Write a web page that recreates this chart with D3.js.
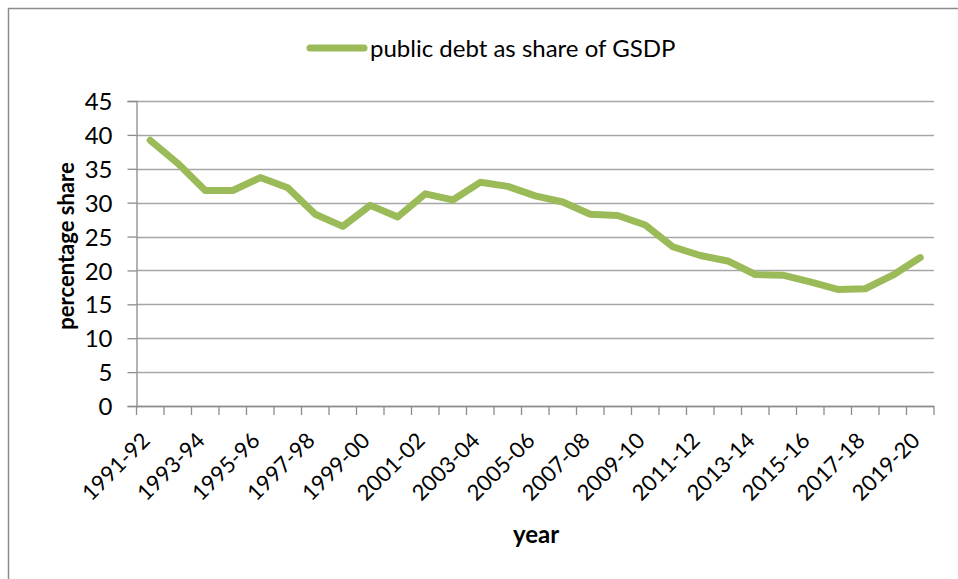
<!DOCTYPE html>
<html lang="en">
  <head>
    <meta charset='utf-8'>
    <script src='https://d3js.org/d3.v7.min.js'></script>
    <title>Public debt as share of GSDP</title>
    <style>
      body {
        margin: 0px;
        background: #fff;
      }
      text {
        font-family: Lato, 'Open Sans', sans-serif;
        fill: #000;
      }
      .axis-label {
        font-weight: bold;
      }
    </style>
  </head>
  <body>
    <div id="viz"></div>
    <script>

      // data
      const years = ['1991-92','1992-93','1993-94','1994-95','1995-96','1996-97','1997-98',
        '1998-99','1999-00','2000-01','2001-02','2002-03','2003-04','2004-05','2005-06',
        '2006-07','2007-08','2008-09','2009-10','2010-11','2011-12','2012-13','2013-14',
        '2014-15','2015-16','2016-17','2017-18','2018-19','2019-20'];
      const debtShare = [39.2, 35.8, 31.8, 31.8, 33.7, 32.2, 28.3, 26.5, 29.6, 27.9, 31.3, 30.4,
        33.0, 32.4, 31.0, 30.1, 28.3, 28.1, 26.7, 23.5, 22.2, 21.4, 19.4, 19.3, 18.3, 17.2,
        17.3, 19.3, 21.9];
      const yTicks = [0, 5, 10, 15, 20, 25, 30, 35, 40, 45];
      const seriesName = 'public debt as share of GSDP';
      const lineColor = '#9bbb59';
      const axisColor = '#8c8c8c';

      const width = 958, height = 579;
      const margin = { left: 136.5, right: 24, top: 101, bottom: 173 };
      const innerWidth = width - margin.left - margin.right;
      const innerHeight = height - margin.top - margin.bottom;

      const data = years.map((y, i) => ({ year: y, value: debtShare[i] }));

      const svg = d3.select('#viz').append('svg')
        .attr('width', width)
        .attr('height', height);

      // outer chart frame (cropped on right and bottom)
      svg.append('path')
        .attr('d', `M8.5,${height} V8.5 H${width}`)
        .attr('fill', 'none')
        .attr('stroke', axisColor)
        .attr('stroke-width', 1.5);

      const g = svg.append('g')
        .attr('transform', `translate(${margin.left},${margin.top})`);

      const xScale = d3.scaleBand()
        .domain(years)
        .range([0, innerWidth]);

      const yScale = d3.scaleLinear()
        .domain([0, 45])
        .range([innerHeight, 0]);

      // gridlines
      g.append('g')
        .selectAll('line')
        .data(yTicks)
        .join('line')
        .attr('x1', 0).attr('x2', innerWidth)
        .attr('y1', d => Math.round(yScale(d)) + 0.5)
        .attr('y2', d => Math.round(yScale(d)) + 0.5)
        .attr('stroke', '#a6a6a6')
        .attr('stroke-width', 1.3);

      // y axis
      const yAxisG = g.append('g')
        .call(d3.axisLeft(yScale).tickValues(yTicks).tickSize(9).tickPadding(15));
      yAxisG.attr('font-family', null).attr('font-size', null);
      yAxisG.select('.domain').attr('stroke', axisColor).attr('stroke-width', 1.3);
      yAxisG.selectAll('.tick line').attr('stroke', axisColor).attr('stroke-width', 1.3);
      yAxisG.selectAll('.tick text')
        .attr('fill', '#000')
        .attr('dy', '0.36em')
        .style('font-size', '24px');

      // x axis: tick marks at category boundaries
      const xAxisG = g.append('g')
        .attr('transform', `translate(0,${innerHeight})`);
      xAxisG.append('line')
        .attr('x1', 0).attr('x2', innerWidth)
        .attr('y1', 0.5).attr('y2', 0.5)
        .attr('stroke', axisColor).attr('stroke-width', 1.3);
      xAxisG.selectAll('.bound')
        .data(years.concat(['end']))
        .join('line')
        .attr('class', 'bound')
        .attr('x1', (d, i) => i < years.length ? xScale(d) : innerWidth)
        .attr('x2', (d, i) => i < years.length ? xScale(d) : innerWidth)
        .attr('y1', 0).attr('y2', 9)
        .attr('stroke', axisColor).attr('stroke-width', 1.3);
      xAxisG.selectAll('.xlab')
        .data(years.filter((d, i) => i % 2 === 0))
        .join('text')
        .attr('class', 'xlab')
        .attr('text-anchor', 'end')
        .style('font-size', '22px')
        .attr('transform', d => `translate(${xScale(d) + xScale.bandwidth() / 2 + 1},${36}) rotate(-45)`)
        .text(d => d);

      // line
      const line = d3.line()
        .x(d => xScale(d.year) + xScale.bandwidth() / 2)
        .y(d => yScale(d.value));

      g.append('path')
        .datum(data)
        .attr('fill', 'none')
        .attr('stroke', lineColor)
        .attr('stroke-width', 7)
        .attr('stroke-linejoin', 'round')
        .attr('stroke-linecap', 'round')
        .attr('d', line);

      // axis labels
      svg.append('text')
        .attr('class', 'axis-label')
        .attr('text-anchor', 'middle')
        .style('font-size', '22px')
        .attr('transform', `translate(74,246) rotate(-90)`)
        .text('percentage share');

      svg.append('text')
        .attr('class', 'axis-label')
        .attr('text-anchor', 'middle')
        .style('font-size', '24px')
        .attr('x', 536)
        .attr('y', 543)
        .text('year');

      // legend
      const legend = svg.append('g').attr('transform', 'translate(310,48)');
      legend.append('line')
        .attr('x1', 0).attr('x2', 54)
        .attr('y1', 0).attr('y2', 0)
        .attr('stroke', lineColor)
        .attr('stroke-width', 7)
        .attr('stroke-linecap', 'round');
      legend.append('text')
        .attr('x', 60)
        .attr('y', 9)
        .style('font-size', '24px')
        .text(seriesName);

    </script>
  </body>
</html>
